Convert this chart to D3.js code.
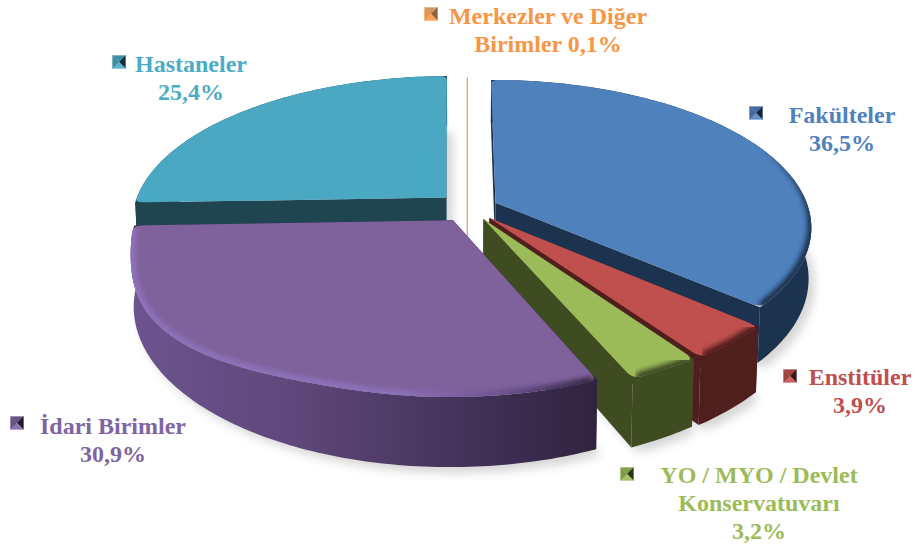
<!DOCTYPE html>
<html>
<head>
<meta charset="utf-8">
<script src="https://cdn.jsdelivr.net/npm/d3@7/dist/d3.min.js"></script>
<style>html,body{margin:0;padding:0;background:#fff;}svg{display:block;}</style>
</head>
<body>
<svg id="chart" width="917" height="552"></svg>
<script>
// ---- data ----
const categories = ["Fakülteler","Enstitüler","YO / MYO / Devlet Konservatuvarı","İdari Birimler","Hastaneler","Merkezler ve Diğer Birimler"];
const shares = [36.5,3.9,3.2,30.9,25.4,0.1];
const shareLabels = ["36,5%","3,9%","3,2%","30,9%","25,4%","0,1%"];
const labelLines = [["Fakülteler","36,5%"],["Enstitüler","3,9%"],["YO / MYO / Devlet","Konservatuvarı","3,2%"],["İdari Birimler","30,9%"],["Hastaneler","25,4%"],["Merkezler ve Diğer","Birimler 0,1%"]];
// ---- style ----
const explode = [0.09,0.092,0.087,0.1,0.106,0.08];
const wallDepth = [50,58,58,58,58,58];
const topColors = ["#4f81bd","#c0504d","#9bbb59","#7f619c","#4aa8c3","#d19a66"];
const wallColors = ["#1c3350","#4f1f1e","#3f4b21","#2f2440","#1f4550","#c98c55"];
const bevelColors = ["#1c3350","#4f1f1e","#3f4b21","#4a3760","#55c0dd","#c98c55"];
const textColors = ["#4f81bd","#c0504d","#9bbb59","#8064a2","#4bacc6","#f79646"];
const paintOrder = [5,4,0,1,2,3];
const labelAnchor = [[842,123],[860,385],[759,483],[113,434],[191,72],[548,24]];
const keyAnchor = [[756,113],[790,376],[627,474],[17,423],[119,62],[431,14]];
const lineHeight = 28;
const cx=470, cy=208, RX=313, RY=144, persp=0.16, rot=-0.2*Math.PI/180;
const deg = Math.PI/180;
const bulge = {slice:3, from:195*deg, to:262*deg, amount:0.045};

const svg = d3.select("#chart");
const defs = svg.append("defs");
defs.append("filter").attr("id","shadowBlur").attr("x","-20%").attr("y","-20%").attr("width","140%").attr("height","140%")
  .append("feGaussianBlur").attr("stdDeviation",5);
defs.append("filter").attr("id","bevelBlur").attr("x","-10%").attr("y","-10%").attr("width","120%").attr("height","120%")
  .append("feGaussianBlur").attr("stdDeviation",2.4);

const xs = d3.scaleLinear().domain([-1,1]).range([cx-RX,cx+RX]);
const ys = d3.scaleLinear().domain([-1,1]).range([cy-RY,cy+RY]);

const purpleWallStops = [[130,"#6d5490"],[300,"#5e4779"],[450,"#45345c"],[595,"#2f2440"]];
const pw = defs.append("linearGradient").attr("id","purpleWall").attr("gradientUnits","userSpaceOnUse")
  .attr("x1",130).attr("x2",595).attr("y1",0).attr("y2",0);
pw.selectAll("stop").data(purpleWallStops).join("stop")
  .attr("offset",d=>(d[0]-130)/(595-130)).attr("stop-color",d=>d[1]);
const purpleBevel = d3.scaleLinear().domain([130,400,500,595]).range(["#8e72bb","#8d72b8","#6c5290","#33263f"]);

const arcs = d3.pie().sort(null).value(d=>d).startAngle(rot).endAngle(rot+2*Math.PI)(shares);

function project(a,r,i,mid,z){
  const e=explode[i];
  let rr=r;
  if(!z && i===bulge.slice && r>0 && a>bulge.from && a<bulge.to){
    const t=(a-bulge.from)/(bulge.to-bulge.from);
    rr=r*(1+bulge.amount*Math.pow(Math.sin(Math.PI*t),2));
  }
  const u = rr*Math.sin(a)+e*Math.sin(mid);
  const v = -rr*Math.cos(a)-e*Math.cos(mid);
  const s = 1/(1-persp*v);
  const shrink = z?0.992:1;
  return {x:cx+(xs(u*s)-cx)*shrink, y:ys(v*s)+(z?wallDepth[i]*s:0), v};
}
function outline(d,i,z){
  const mid=(d.startAngle+d.endAngle)/2, a0=d.startAngle, a1=d.endAngle;
  const span=a1-a0, delta=Math.min(1.4*deg,span/4);
  const n=Math.max(2,Math.ceil((span-2*delta)/deg));
  const arcAngles=d3.range(n+1).map(k=>a0+delta+(span-2*delta)*k/n);
  return {
    apex:project(0,0,i,mid,z),
    s0:project(a0,0.965,i,mid,z), c0:project(a0,1,i,mid,z),
    s1:project(a1,0.965,i,mid,z), c1:project(a1,1,i,mid,z),
    rim:arcAngles.map(a=>project(a,1,i,mid,z))
  };
}
function facePath(o){
  const L=d3.path();
  L.moveTo(o.apex.x,o.apex.y); L.lineTo(o.s0.x,o.s0.y);
  L.quadraticCurveTo(o.c0.x,o.c0.y,o.rim[0].x,o.rim[0].y);
  o.rim.forEach(p=>L.lineTo(p.x,p.y));
  L.quadraticCurveTo(o.c1.x,o.c1.y,o.s1.x,o.s1.y);
  L.closePath();
  return L.toString();
}
const poly=pts=>"M"+pts.map(p=>p.x+","+p.y).join("L")+"Z";

// soft ground shadow from the bottom faces
svg.append("g").attr("filter","url(#shadowBlur)").attr("opacity",0.24).attr("transform","translate(6,6)")
  .selectAll("path").data(arcs.slice(0,5)).join("path")
  .attr("d",d=>facePath(outline(d,d.index,true))).attr("fill","#555");

paintOrder.forEach(i=>{
  const d=arcs[i], top=outline(d,i,false), bot=outline(d,i,true);
  const g=svg.append("g").attr("class","slice");
  if(i===5){
    // the tiny slice is only a hairline seen edge-on
    g.append("line").attr("x1",top.c0.x).attr("x2",top.c0.x).attr("y1",top.c0.y+2).attr("y2",bot.apex.y)
      .attr("stroke",wallColors[i]).attr("stroke-width",1);
    return;
  }
  // radial faces
  [[top.apex,top.c0,bot.c0,bot.apex],[top.apex,top.c1,bot.c1,bot.apex]].forEach(q=>{
    g.append("path").attr("d",poly(q)).attr("fill",wallColors[i]);
  });
  // outer wall
  g.append("path")
    .attr("d",poly([top.c0,...top.rim,top.c1,bot.c1,...bot.rim.slice().reverse(),bot.c0]))
    .attr("fill",i===3?"url(#purpleWall)":wallColors[i]);
  // top face
  g.append("path").attr("d",facePath(top)).attr("fill",topColors[i]);
  // rim bevel, clipped by the top face
  const seg=d3.pairs(d3.range(top.rim.length));
  defs.append("clipPath").attr("id","clip"+i).append("path").attr("d",facePath(top));
  const bevel=g.append("g").attr("clip-path","url(#clip"+i+")").append("g").attr("filter","url(#bevelBlur)");
  bevel.selectAll("path").data(seg).join("path")
    .attr("d",([a,b])=>`M${top.rim[a].x},${top.rim[a].y}L${top.rim[b].x},${top.rim[b].y}`)
    .attr("fill","none")
    .attr("stroke",([a,b])=> i===3?purpleBevel(top.rim[a].x):bevelColors[i])
    .attr("stroke-linecap","round")
    .attr("stroke-width",([a,b])=>{
      const v=top.rim[a].v;
      return i===4? 3*Math.max(0,(v+0.1)/0.15) : Math.max(0,Math.min(10,13*(v+0.45)));
    });
});

// labels
svg.append("g").selectAll("text").data(labelLines).join("text")
  .attr("font-family","'Liberation Serif',serif").attr("font-weight","bold").attr("font-size",24)
  .attr("text-anchor","middle")
  .attr("fill",(d,i)=>textColors[i])
  .attr("x",(d,i)=>labelAnchor[i][0]).attr("y",(d,i)=>labelAnchor[i][1])
  .selectAll("tspan").data((d,i)=>d.map(t=>({t,i}))).join("tspan")
  .attr("x",d=>labelAnchor[d.i][0]).attr("dy",(d,k)=>k?lineHeight:0).text(d=>d.t);

// legend keys: small pyramids
const half=6.5;
const keys=svg.append("g").selectAll("g").data(keyAnchor).join("g").attr("transform",d=>`translate(${d[0]},${d[1]})`);
const tints=[
  i=>d3.interpolateRgb(topColors[i],wallColors[i])(0.25), // top
  i=>d3.interpolateRgb(wallColors[i],"#000")(0.3),         // right
  i=>d3.interpolateRgb(textColors[i],"#fff")(0.1),         // bottom
  i=>d3.interpolateRgb(textColors[i],wallColors[i])(0.3)   // left
];
const tris=[[[-1,-1],[1,-1]],[[1,-1],[1,1]],[[1,1],[-1,1]],[[-1,1],[-1,-1]]];
keys.each(function(d,i){
  d3.select(this).selectAll("path").data(tris).join("path")
    .attr("d",t=>`M0,0L${t[0][0]*half},${t[0][1]*half}L${t[1][0]*half},${t[1][1]*half}Z`)
    .attr("fill",(t,k)=>tints[k](i)).attr("stroke",(t,k)=>tints[k](i)).attr("stroke-width",0.3);
});
</script>
</body>
</html>
